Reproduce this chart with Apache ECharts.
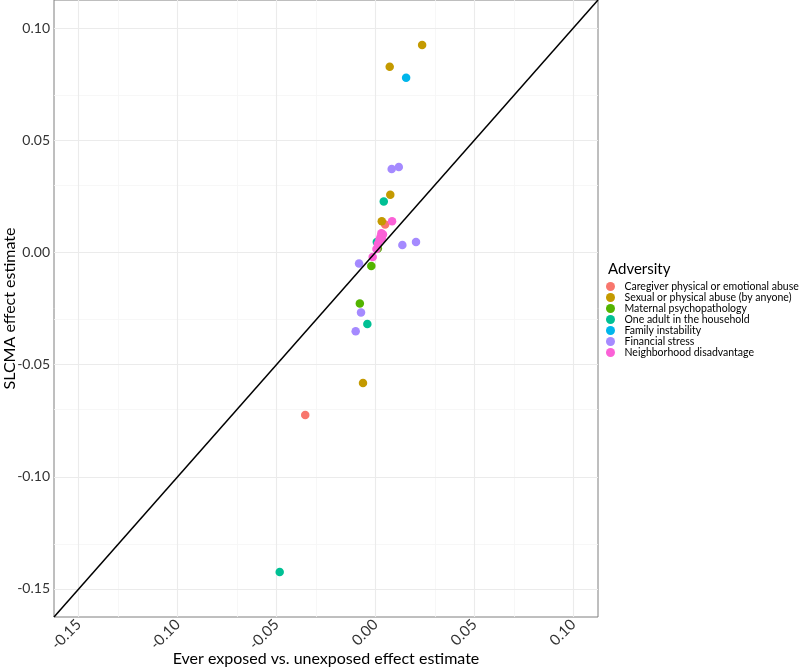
<!DOCTYPE html>
<html><head><meta charset="utf-8">
<script src="https://cdn.jsdelivr.net/npm/echarts@6/dist/echarts.min.js"></script>
<style>html,body{margin:0;padding:0;background:#fff}#c{width:800px;height:671px}</style>
</head><body><div id="c"></div>
<script>
const groups = ["Caregiver physical or emotional abuse","Sexual or physical abuse (by anyone)","Maternal psychopathology","One adult in the household","Family instability","Financial stress","Neighborhood disadvantage"];
const colors = ["#F8766D","#C49A00","#53B400","#00C094","#00B6EB","#A58AFF","#FB61D7"];
const caregiver = [[-0.0355,-0.0725],[0.0049,0.0124]];
const sexual = [[0.0236,0.0924],[0.0072,0.0827],[0.0075,0.0257],[0.0032,0.0139],[-0.0063,-0.0582]];
const maternal = [[-0.0079,-0.0228],[-0.0021,-0.0061],[0.0012,0.0017]];
const oneAdult = [[0.0042,0.0227],[0.0007,0.0046],[-0.0041,-0.0319],[-0.0484,-0.1424]];
const family = [[0.0155,0.0778]];
const financial = [[0.0082,0.0372],[0.0118,0.0381],[0.0136,0.0033],[0.0205,0.0046],[-0.0083,-0.0049],[-0.0073,-0.0268],[-0.0100,-0.0351]];
const neighborhood = [[0.0084,0.0139],[0.0030,0.0085],[0.0038,0.0080],[0.0025,0.0068],[0.0020,0.0055],[0.0032,0.0062],[0.0012,0.0038],[0.0005,0.0015],[-0.0014,-0.0020]];
const seriesData = [caregiver, sexual, maternal, oneAdult, family, financial, neighborhood];
const axisMin = -0.1625, axisMax = 0.1125;
const tickValues = [-0.15,-0.10,-0.05,0.00,0.05,0.10];
const minorValues = [-0.125,-0.075,-0.025,0.025,0.075];
const diagonal = [[axisMin,axisMin],[axisMax,axisMax]];

const font = 'Lato, "Open Sans", sans-serif';
const chart = echarts.init(document.getElementById('c'));

const gridLines = [];
minorValues.forEach(v => { gridLines.push({xAxis: v, lineStyle:{color:'#f5f5f5',width:0.8,type:'solid'}}); gridLines.push({yAxis: v, lineStyle:{color:'#f5f5f5',width:0.8,type:'solid'}}); });
tickValues.forEach(v => { gridLines.push({xAxis: v, lineStyle:{color:'#ebebeb',width:1.1,type:'solid'}}); gridLines.push({yAxis: v, lineStyle:{color:'#ebebeb',width:1.1,type:'solid'}}); });

const series = [{
  type:'scatter', data:[], silent:true, z:1,
  markLine:{z:1, symbol:'none', silent:true, label:{show:false}, animation:false, lineStyle:{type:'solid'}, emphasis:{disabled:true}, data:gridLines}
}];
groups.forEach((g,i) => series.push({
  name:g, type:'scatter', data:seriesData[i], symbolSize:8.5, z:6,
  itemStyle:{color:colors[i], opacity:1}
}));
series.push({type:'line', data:diagonal, symbol:'none', z:7, lineStyle:{color:'#000', width:1.5}, silent:true});

chart.setOption({
  animation:false,
  backgroundColor:'#fff',
  title:{text:'Adversity', left:603, top:257, textStyle:{fontFamily:font, fontSize:15, fontWeight:'normal', color:'#000'}},
  legend:{
    orient:'vertical', left:606, top:281, itemWidth:10, itemHeight:9, itemGap:0, icon:'circle', padding:0,
    data:groups, textStyle:{fontFamily:font, fontSize:10.5, lineHeight:10, color:'#000', padding:[0,0,0,4]}
  },
  grid:{left:54, right:202, top:0, bottom:54, show:true, borderColor:'#7f7f7f', borderWidth:1, backgroundColor:'#fff', outerBoundsMode:'none', containLabel:false},
  xAxis:{
    type:'value', min:axisMin, max:axisMax,
    name:'Ever exposed vs. unexposed effect estimate', nameLocation:'middle', nameGap:34, nameMoveOverlap:false,
    nameTextStyle:{fontFamily:font, fontSize:16, color:'#000'},
    axisLine:{show:false}, splitLine:{show:false},
    axisTick:{show:true, customValues:tickValues, length:4, lineStyle:{color:'#333'}},
    axisLabel:{customValues:tickValues, rotate:45, fontFamily:font, fontSize:15, color:'#333', margin:5, formatter:v=>v.toFixed(2)}
  },
  yAxis:{
    type:'value', min:axisMin, max:axisMax,
    name:'SLCMA effect estimate', nameLocation:'middle', nameGap:36, nameMoveOverlap:false,
    nameTextStyle:{fontFamily:font, fontSize:16, color:'#000'},
    axisLine:{show:false}, splitLine:{show:false},
    axisTick:{show:true, customValues:tickValues, length:4, lineStyle:{color:'#333'}},
    axisLabel:{customValues:tickValues, fontFamily:font, fontSize:14, color:'#333', margin:4, formatter:v=>v.toFixed(2)}
  },
  series:series
});
</script></body></html>
